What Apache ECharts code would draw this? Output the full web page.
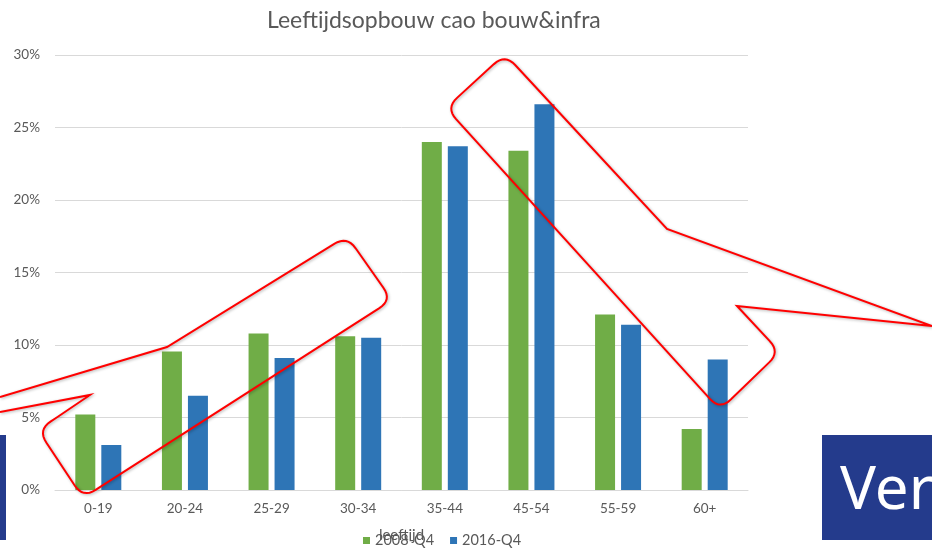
<!DOCTYPE html>
<html>
<head>
<meta charset="utf-8">
<script src="https://cdn.jsdelivr.net/npm/echarts@6/dist/echarts.min.js"></script>
<style>html,body{margin:0;padding:0;background:#fff;}#c{width:932px;height:548px;}</style>
</head>
<body>
<div id="c"></div>
<script>
var categories = ['0-19', '20-24', '25-29', '30-34', '35-44', '45-54', '55-59', '60+'];
var series2008 = [5.2, 9.55, 10.8, 10.6, 24.0, 23.4, 12.1, 4.2];
var series2016 = [3.1, 6.5, 9.1, 10.5, 23.7, 26.6, 11.4, 9.0];
var seriesNames = ['2008-Q4', '2016-Q4'];
var titleText = 'Leeftijdsopbouw cao bouw&infra';
var axisName = 'leeftijd';

function roundPoly(pts, radii) {
  var out = [];
  for (var i = 0; i < pts.length; i++) {
    var P = pts[i], r = radii[i] || 0;
    if (!r || i === 0 || i === pts.length - 1) { out.push(P); continue; }
    var A = pts[i - 1], B = pts[i + 1];
    var dx1 = A[0] - P[0], dy1 = A[1] - P[1], l1 = Math.hypot(dx1, dy1);
    var dx2 = B[0] - P[0], dy2 = B[1] - P[1], l2 = Math.hypot(dx2, dy2);
    var a = [P[0] + dx1 / l1 * r, P[1] + dy1 / l1 * r];
    var b = [P[0] + dx2 / l2 * r, P[1] + dy2 / l2 * r];
    for (var k = 0; k <= 8; k++) {
      var t = k / 8;
      out.push([(1 - t) * (1 - t) * a[0] + 2 * (1 - t) * t * P[0] + t * t * b[0],
                (1 - t) * (1 - t) * a[1] + 2 * (1 - t) * t * P[1] + t * t * b[1]]);
    }
  }
  return out;
}

var leftCallout = roundPoly(
  [[0, 397], [167, 347], [347, 236], [392, 300], [83, 498], [38, 430], [56, 418], [90, 395], [0, 412]],
  [0, 0, 15, 15, 15, 15, 0, 0, 0]);
var rightCallout = roundPoly(
  [[932, 326], [737, 306], [780, 352], [720, 410], [446, 108], [505, 54], [667, 229], [932, 326]],
  [0, 0, 15, 15, 15, 15, 0, 0]);

var calloutStyle = {
  stroke: '#ff0000', lineWidth: 2, fill: null,
  shadowColor: 'rgba(0,0,0,0.3)', shadowBlur: 3, shadowOffsetX: 1, shadowOffsetY: 1
};

var chart = echarts.init(document.getElementById('c'));
chart.setOption({
  animation: false,
  backgroundColor: '#ffffff',
  textStyle: { fontFamily: 'Lato' },
  title: {
    text: titleText,
    left: 262, top: 4,
    textStyle: { fontFamily: 'Lato', fontSize: 23, fontWeight: 'normal', color: '#595959' }
  },
  legend: {
    data: seriesNames,
    left: 358, top: 528,
    icon: 'rect', itemWidth: 7, itemHeight: 7, itemGap: 16, itemTextGap: 4,
    textStyle: { fontFamily: 'Lato', fontSize: 14.5, color: '#595959' }
  },
  grid: { left: 55, right: 184, top: 55, bottom: 56 },
  xAxis: {
    type: 'category',
    data: categories,
    name: axisName,
    nameLocation: 'middle',
    nameGap: 38,
    nameTextStyle: { fontFamily: 'Lato', fontSize: 15, color: '#595959' },
    axisLine: { lineStyle: { color: '#d9d9d9' } },
    axisTick: { show: false },
    axisLabel: { fontFamily: 'Lato', fontSize: 13.5, color: '#595959', margin: 12 }
  },
  yAxis: {
    type: 'value',
    min: 0, max: 30, interval: 5,
    axisLine: { show: false },
    axisTick: { show: false },
    axisLabel: { formatter: '{value}%', fontFamily: 'Lato', fontSize: 13.5, color: '#595959', margin: 15 },
    splitLine: { lineStyle: { color: '#d9d9d9' } }
  },
  series: [
    { name: seriesNames[0], type: 'bar', data: series2008, barWidth: 20, barGap: '30%',
      itemStyle: { color: '#70ad47' } },
    { name: seriesNames[1], type: 'bar', data: series2016, barWidth: 20, barGap: '30%',
      itemStyle: { color: '#2e75b6' } }
  ],
  graphic: [
    { type: 'rect', z: 100, shape: { x: -2, y: 435, width: 8, height: 105 }, style: { fill: '#243b8c' } },
    { type: 'rect', z: 100, shape: { x: 822, y: 435, width: 120, height: 105 }, style: { fill: '#243b8c' } },
    { type: 'text', z: 101, left: 840, top: 462,
      style: { text: 'Ver', fill: '#ffffff', font: '60px "Noto Sans"' } },
    { type: 'polyline', z: 102, shape: { points: leftCallout }, style: calloutStyle },
    { type: 'polyline', z: 102, shape: { points: rightCallout }, style: calloutStyle }
  ]
});
</script>
</body>
</html>
